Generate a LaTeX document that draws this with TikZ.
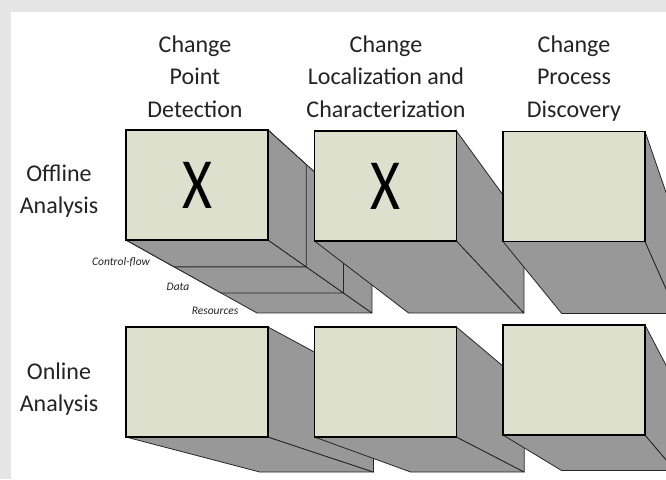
\documentclass[tikz,border=0pt]{standalone}
\usepackage{fontspec}
\setmainfont{Carlito}
\newfontfamily\xfont[FakeStretch=0.8]{Carlito}
\usetikzlibrary{calc}
\pgfdeclarelayer{bg}
\pgfdeclarelayer{ext}
\pgfsetlayers{bg,ext,main}
\definecolor{facecol}{RGB}{220,224,204}
\definecolor{sidecol}{RGB}{152,152,152}
\definecolor{edgecol}{RGB}{38,38,38}
\definecolor{bgcol}{RGB}{229,229,229}
\definecolor{txtcol}{RGB}{35,35,35}
\tikzset{
  frontface/.style={draw=black, line width=1.2pt, fill=facecol, minimum width=142pt,
    minimum height=110pt, inner sep=0pt, outer sep=0pt, font=\xfont\fontsize{72}{72}\selectfont},
  sideface/.style={fill=sidecol, draw=edgecol, line width=0.8pt, line join=round},
  header/.style={align=center, anchor=base, text=txtcol, font=\fontsize{24}{32.5}\selectfont},
  rowlabel/.style={align=center, anchor=base, text=txtcol, font=\fontsize{24}{32.5}\selectfont},
  layerlabel/.style={anchor=center, text=txtcol, font=\fontsize{11.5}{12}\selectfont\itshape, inner sep=0pt}
}
% #1 front node, #2 vanishing point, #3 depth fraction
\newcommand\extr[3]{%
  \begin{pgfonlayer}{ext}
    \filldraw[sideface] (#1.south west) -- (#1.south east) -- ($(#1.south east)!#3!(#2)$)
      -- ($(#1.south west)!#3!(#2)$) -- cycle;
    \filldraw[sideface] (#1.north east) -- ($(#1.north east)!#3!(#2)$)
      -- ($(#1.south east)!#3!(#2)$) -- (#1.south east) -- cycle;
  \end{pgfonlayer}}
\begin{document}
\begin{tikzpicture}[x=1pt, y=-1pt]
\useasboundingbox (0,0) rectangle (666,479);
\begin{pgfonlayer}{bg}
  \fill[bgcol] (0,0) rectangle (666,479);
  \fill[white] (11,12) rectangle (666,479);
\end{pgfonlayer}
\coordinate (vtop) at (815,624);
\coordinate (vbot) at (795,612);

% headers (anchor = baseline of last line)
\node[header] (h1) at (195,117) {Change\\Point\\Detection};
\node[header] (h2) at (386,117) {Change\\Localization and\\Characterization};
\node[header] (h3) at (574,117) {Change\\Process\\Discovery};
% row labels
\node[rowlabel] (r1) at (59,213.5) {Offline\\Analysis};
\node[rowlabel] (r2) at (59,411.5) {Online\\Analysis};

% offline row
\node[frontface] (b1) at (197,185) {X};
\extr{b1}{vtop}{0.19}
\extr{b1}{vtop}{0.138}
\extr{b1}{vtop}{0.07}
\node[frontface] (b2) at (385.5,186) {X};
\extr{b2}{vtop}{0.188}
\node[frontface] (b3) at (574,186.5) {};
\extr{b3}{vtop}{0.188}

% layer labels
\node[layerlabel] (l1) at (121,262) {Control-flow};
\node[layerlabel] (l2) at (178,287) {Data};
\node[layerlabel] (l3) at (215,311) {Resources};

% online row
\node[frontface] (b4) at (197,382) {};
\extr{b4}{vbot}{0.2}
\node[frontface] (b5) at (385.5,382) {};
\extr{b5}{vbot}{0.2}
\node[frontface] (b6) at (574,380) {};
\extr{b6}{vbot}{0.2}
\end{tikzpicture}
\end{document}
